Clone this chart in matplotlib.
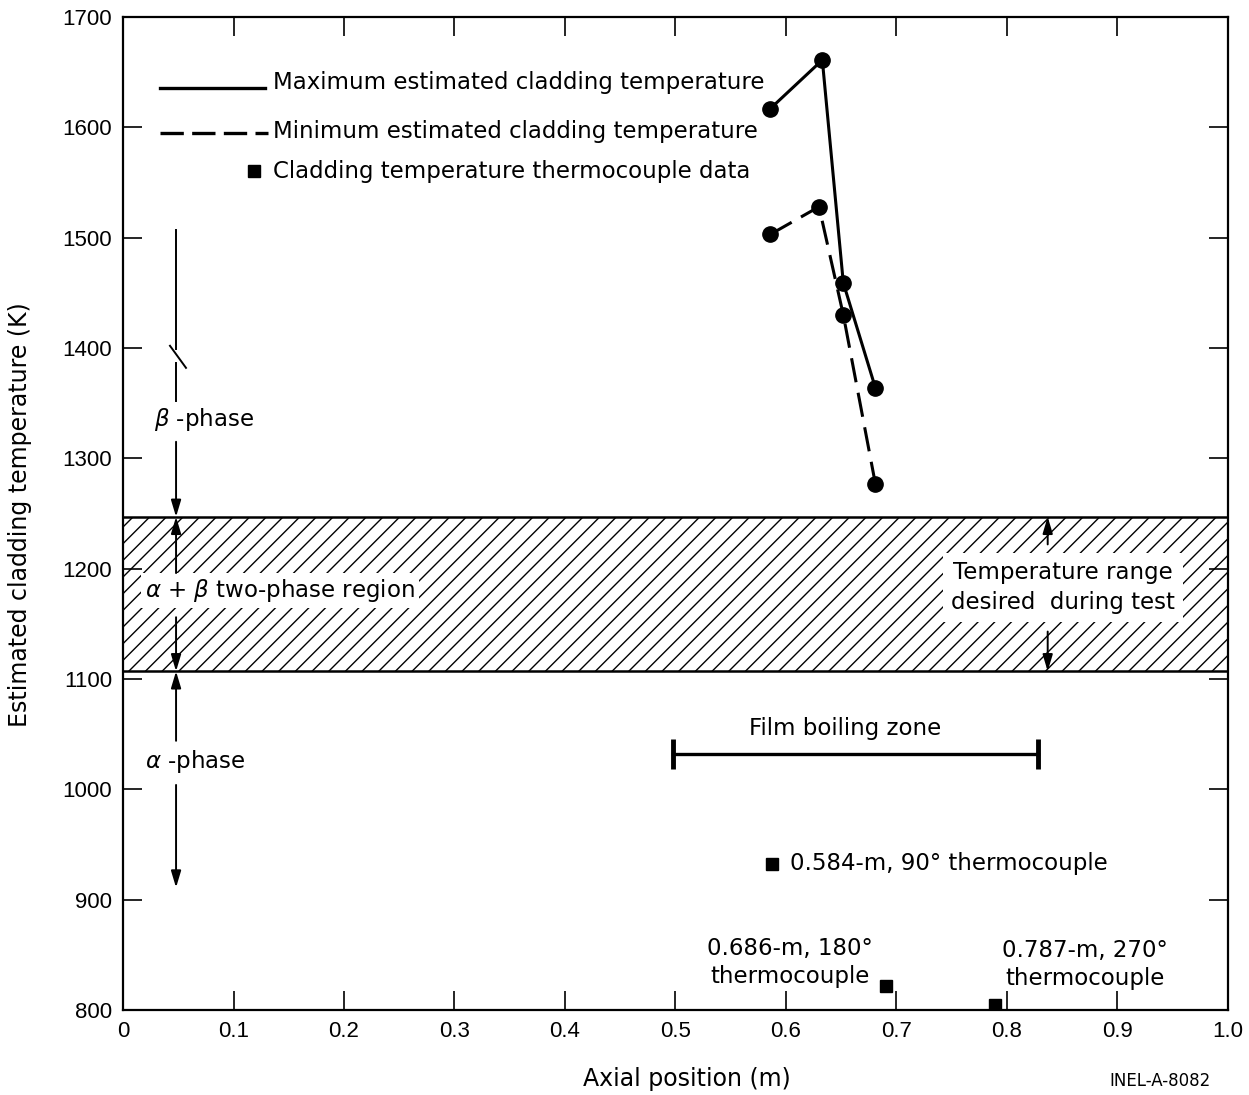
import matplotlib
matplotlib.use('Agg')
import matplotlib.pyplot as plt

plt.rcParams['font.family'] = ['DejaVu Sans']
plt.rcParams['hatch.linewidth'] = 1.0

# estimated cladding temperature (K) vs axial position (m)
max_x = [0.586, 0.633, 0.652, 0.681]
max_t = [1617, 1661, 1459, 1364]
min_x = [0.586, 0.630, 0.652, 0.681]
min_t = [1503, 1528, 1430, 1277]

# thermocouple data
tc_x = [0.587, 0.691, 0.789]
tc_t = [932, 822, 805]
tc_labels = ['0.584-m, 90\u00b0 thermocouple',
             '0.686-m, 180\u00b0\nthermocouple',
             '0.787-m, 270\u00b0\nthermocouple']

# desired temperature band / two-phase region
band_low = 1107
band_high = 1247

# film boiling zone
film_x = [0.498, 0.828]
film_t = 1032

xticks = [0, 0.1, 0.2, 0.3, 0.4, 0.5, 0.6, 0.7, 0.8, 0.9, 1.0]
xticklabels = ['0', '0.1', '0.2', '0.3', '0.4', '0.5', '0.6', '0.7', '0.8', '0.9', '1.0']
yticks = [800, 900, 1000, 1100, 1200, 1300, 1400, 1500, 1600, 1700]

fig = plt.figure(figsize=(12.49, 10.95), dpi=100)
ax = fig.add_axes([0.0985, 0.0776, 0.8845, 0.9069])
ax.set_xlim(0, 1.0)
ax.set_ylim(800, 1700)

for s in ax.spines.values():
    s.set_linewidth(1.6)

ax.set_xticks(xticks)
ax.set_xticklabels(xticklabels)
ax.set_yticks(yticks)
ax.tick_params(direction='in', length=14, width=1.2, top=True, right=True,
               labelsize=16, pad=8)
for lab in ax.get_xticklabels() + ax.get_yticklabels():
    lab.set_family(['Liberation Sans Narrow', 'Liberation Sans'])

fs = 16.5

# hatched band
ax.axhspan(band_low, band_high, facecolor='none', edgecolor='black',
           linewidth=0, hatch='//', zorder=1)
ax.axhline(band_low, color='black', lw=1.8, zorder=2)
ax.axhline(band_high, color='black', lw=1.8, zorder=2)

# curves
ax.plot(max_x, max_t, color='black', lw=2.2, marker='o', markersize=11, zorder=5)
ax.plot(min_x, min_t, color='black', lw=2.2, dashes=(8, 3.5), marker='o',
        markersize=11, zorder=5)

# thermocouples
ax.plot(tc_x, tc_t, linestyle='none', marker='s', color='black', markersize=8, zorder=5)
ax.text(0.6036, 933, tc_labels[0], fontsize=fs, ha='left', va='center')
ax.text(0.6036, 843, tc_labels[1], fontsize=fs, ha='center', va='center',
        multialignment='center', linespacing=1.3)
ax.text(0.796, 841, tc_labels[2], fontsize=fs, ha='left', va='center',
        multialignment='center', linespacing=1.3)

# film boiling zone
ax.plot(film_x, [film_t, film_t], color='black', lw=2.4)
ax.plot(film_x, [film_t, film_t], linestyle='none', marker='|', markersize=22,
        markeredgewidth=3.5, color='black')
ax.text(0.6534, 1055, 'Film boiling zone', fontsize=fs, ha='center', va='center')

# legend drawn by hand
ax.plot([0.0335, 0.1285], [1636, 1636], color='black', lw=2.4)
ax.plot([0.0335, 0.131], [1595, 1595], color='black', lw=2.4, dashes=(7, 2.5))
ax.plot([0.119], [1560], marker='s', color='black', markersize=8)
ax.text(0.1357, 1641, 'Maximum estimated cladding temperature', fontsize=fs, va='center')
ax.text(0.1357, 1596, 'Minimum estimated cladding temperature', fontsize=fs, va='center')
ax.text(0.1357, 1560, 'Cladding temperature thermocouple data', fontsize=fs, va='center')

# band texts
wb = dict(facecolor='white', edgecolor='none', pad=3)
ax.text(0.8507, 1183, 'Temperature range\ndesired  during test', fontsize=fs,
        ha='center', va='center', linespacing=1.4, zorder=3,
        bbox=dict(facecolor='white', edgecolor='none', pad=6))
ax.text(0.02, 1180, r'$\alpha$ + $\beta$ two-phase region', fontsize=fs,
        ha='left', va='center', zorder=3, bbox=wb)
ax.text(0.0276, 1335, r'$\beta$ -phase', fontsize=fs, ha='left', va='center')
ax.text(0.02, 1025, r'$\alpha$ -phase', fontsize=fs, ha='left', va='center')

# phase arrows
ax_x = 0.048
ap = dict(arrowstyle='-|>,head_length=1.0,head_width=0.3', color='black', lw=1.4,
          shrinkA=0, shrinkB=0)
ax.plot([ax_x, ax_x], [1507, 1399], color='black', lw=1.4)
ax.plot([0.0425, 0.057], [1402, 1382], color='black', lw=1.4)
ax.plot([ax_x, ax_x], [1386, 1352], color='black', lw=1.4)
arrows = [((ax_x, band_high), (ax_x, 1315)),
          ((ax_x, band_high), (ax_x, 1196)),
          ((ax_x, band_low), (ax_x, 1156)),
          ((ax_x, band_low), (ax_x, 1044)),
          ((ax_x, 911), (ax_x, 1004)),
          ((0.837, band_high), (0.837, 1222)),
          ((0.837, band_low), (0.837, 1143))]
for tip, tail in arrows:
    ax.annotate('', xy=tip, xytext=tail, arrowprops=ap, zorder=4)

fig.text(687 / 1249, 1 - 1079 / 1095, 'Axial position (m)', fontsize=17,
         ha='center', va='center')
fig.text(20 / 1249, 1 - 515 / 1095, 'Estimated cladding temperature (K)', fontsize=17,
         ha='center', va='center', rotation=90)
fig.text(1160 / 1249, 1 - 1081 / 1095, 'INEL-A-8082', fontsize=12,
         ha='center', va='center')

fig.savefig('out.png', dpi=100, facecolor='white')
